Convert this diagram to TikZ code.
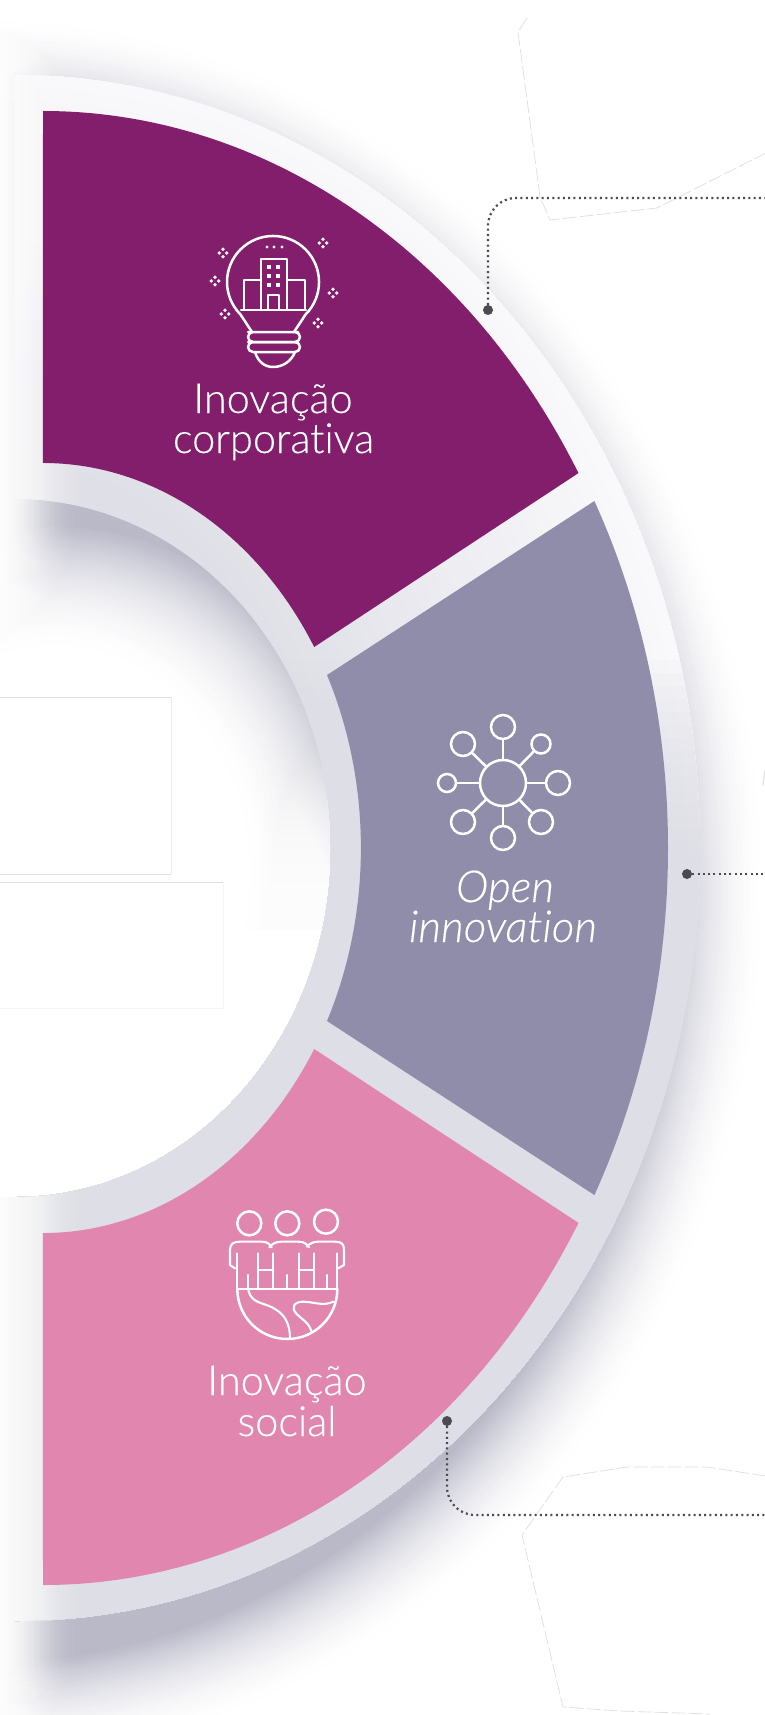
\documentclass[tikz,border=0pt]{standalone}
\usepackage{fontspec}
\setmainfont{Lato}[UprightFont=* Light, ItalicFont=* Light Italic, Ligatures=NoCommon, FakeBold=0.25]
\definecolor{cpurple}{HTML}{821E6B}
\definecolor{cgrey}{HTML}{8F8DAA}
\definecolor{cpink}{HTML}{E086AF}
\definecolor{cshade}{HTML}{B9B9C8}
\definecolor{cleader}{HTML}{4A4A50}
\definecolor{cfaint}{HTML}{DEDEDE}
\definecolor{plight}{HTML}{F9F9FB}
\definecolor{pdark}{HTML}{DFDFE7}
\definecolor{pbottom}{HTML}{DDDEE6}
\def\outerfull{(15,848) ellipse [x radius=685pt,y radius=773pt]}
\def\holefull{(15,848) ellipse [x radius=316pt,y radius=349pt]}
\def\outeropen{(15,75) arc[start angle=-90,end angle=90,x radius=685pt,y radius=773pt]}
\def\platepath{(15,75) arc[start angle=-90,end angle=90,x radius=685pt,y radius=773pt] -- (15,1197) arc[start angle=90,end angle=-90,x radius=316pt,y radius=349pt] -- cycle}
\tikzset{
  iconline/.style={draw=white,line width=2.5pt,line cap=round,line join=round},
  thinicon/.style={draw=white,line width=2.1pt,line cap=round,line join=round},
  hubring/.style={circle,draw=white,line width=2.5pt,inner sep=0pt},
  seglabel/.style={text=white,anchor=base,inner sep=0pt,font=\fontsize{41.5}{44}\selectfont},
  itallabel/.style={text=white,anchor=base,inner sep=0pt,font=\fontsize{44}{44}\selectfont\itshape},
  leader/.style={draw=cleader,line width=2.2pt,dash pattern=on 2pt off 3.3pt},
  leaddot/.style={circle,fill=cleader,minimum size=10pt,inner sep=0pt},
  faintline/.style={draw=cfaint,line width=.7pt,dash pattern=on 14pt off 3pt}
}
\newcommand{\sparkle}[2]{%
  \fill[white] (#1+3.8,#2) circle (1.9pt) (#1-3.8,#2) circle (1.9pt) (#1,#2+3.8) circle (1.9pt) (#1,#2-3.8) circle (1.9pt);}
\begin{document}
\begin{tikzpicture}[x=1pt,y=1pt,yscale=-1]
\path[use as bounding box] (0,0) rectangle (764,1715);
\clip (0,0) rectangle (766,1715);
\fill[white] (0,0) rectangle (766,1715);

% outer soft shadow
\begin{scope}[shift={(-33,40)}]
  \foreach \i in {1,...,42}{
    \pgfmathsetmacro\wd{212*(1-\i/43)}
    \pgfmathtruncatemacro\p{100*(\i/42)^2}
    \draw[color=cshade!\p!white,line width=\wd pt] \outerfull;
  }
  \fill[cshade] \outerfull;
\end{scope}

% hole with its own shadow
\begin{scope}
  \clip \holefull;
  \fill[white] (-10,400) rectangle (400,1300);
  \begin{scope}[shift={(40,25)}]
    \foreach \i in {1,...,45}{
      \pgfmathsetmacro\wd{270*(1-\i/46)}
      \pgfmathtruncatemacro\p{100*(\i/45)^2}
      \draw[color=cshade!\p!white,line width=\wd pt] \holefull;
    }
    \fill[cshade,even odd rule] (-400,-400) rectangle (1200,2200) \holefull;
  \end{scope}
  \foreach \i in {50,49,...,0}{
    \pgfmathsetmacro\op{.3*(1-\i/51)^2+.004}
    \fill[white,opacity=\op] (-10,{900-\i*4}) rectangle (400,1300);
  }
  \fill[white] (-10,930) rectangle (400,1300);
\end{scope}

% fade to the left edge
\foreach \i in {36,35,...,1}{
  \pgfmathsetmacro\op{.3*(1-\i/37)^2+.004}
  \fill[white,opacity=\op] (-5,0) rectangle ({2.5*\i},1715);
}

% faint panels
\fill[white] (527,18) -- (518,32) -- (540,197) -- (550,220) -- (657,208) -- (766,153) -- (766,0) -- (540,0) -- cycle;
\draw[faintline] (527,18) -- (518,32) -- (540,197) -- (550,220) -- (657,208) -- (766,153);
\fill[white] (563,1477) -- (627,1467) -- (707,1467) -- (766,1476) -- (766,1715) -- (710,1714) -- (620,1711) -- (563,1707) -- (522,1535) -- cycle;
\draw[faintline] (766,1476) -- (707,1467) -- (627,1467) -- (563,1477) -- (522,1535) -- (563,1707) -- (620,1711) -- (710,1714);
\draw[draw=cfaint,line width=1pt] (765,770) -- (763,785);

% two boxes
\fill[white] (-2,697) rectangle (171,874);
\draw[draw=black!12,line width=1pt] (-2,697) -- (171,697);
\draw[draw=black!12,line width=1pt] (171,874) -- (-2,874);
\draw[draw=black!8,line width=1pt] (171,697) -- (171,874);
\fill[white] (-2,882) rectangle (223,1008);
\draw[draw=black!12,line width=1pt] (-2,882) -- (223,882);
\draw[draw=black!4,line width=1pt] (223,882) -- (223,1008) -- (-2,1008);

% plate
\begin{scope}
  \clip \platepath;
  \fill[pdark] (0,0) rectangle (766,1715);
  \foreach \i in {1,...,30}{
    \pgfmathsetmacro\wd{800*(1-\i/31)}
    \pgfmathtruncatemacro\p{100*\i/30}
    \draw[color=plight!\p!pdark,line width=\wd pt] \outeropen;
  }
  \foreach \i in {0,...,40}{
    \fill[pbottom,opacity=.1] (0,{1180-\i*13}) rectangle (766,1715);
  }
  \foreach \i in {30,29,...,1}{
    \pgfmathsetmacro\op{.22*(1-\i/31)^2+.004}
    \fill[white,opacity=\op] (0,0) rectangle ({15+3.2*\i},1715);
  }
\end{scope}

% segments
\fill[cpurple] (43,111) arc[start angle=-90,end angle=-30.58,x radius=622pt,y radius=737pt] -- (314.2,647) arc[start angle=-31.47,end angle=-90,x radius=318pt,y radius=385pt] -- cycle;
\fill[cgrey] (594.4,501) arc[start angle=-28.09,end angle=28.09,x radius=625pt,y radius=737pt] -- (327,1021) arc[start angle=26.7,end angle=-26.7,x radius=318pt,y radius=385pt] -- cycle;
\fill[cpink] (43,1585) arc[start angle=90,end angle=30.58,x radius=622pt,y radius=737pt] -- (314.2,1049) arc[start angle=31.47,end angle=90,x radius=318pt,y radius=385pt] -- cycle;

% bulb icon
\draw[iconline] (252,332) -- (240.5,314.5) arc[start angle=135,end angle=405,radius=46pt] -- (294,332);
\draw[thinicon] (241,310) -- (306,310);
\draw[thinicon] (261,310) -- (261,259) -- (287,259) -- (287,310);
\draw[thinicon] (261,280) -- (244,280) -- (244,310);
\draw[thinicon] (287,280) -- (305,280) -- (305,310);
\draw[thinicon] (268,310) -- (268,295) -- (279,295) -- (279,310);
\foreach \wx in {269,278}{\foreach \wy in {267,276,285}{\fill[white] (\wx-1.6,\wy-1.6) rectangle (\wx+1.6,\wy+1.6);}}
\foreach \wx in {267,274,282}{\fill[white] (\wx,247) circle (1.7pt);}
\draw[iconline,rounded corners=5pt] (253,332) -- (248,332) -- (248,342) -- (300,342) -- (300,332) -- (293,332) -- cycle;
\draw[iconline,rounded corners=5pt] (253,342) -- (248,342) -- (248,352) -- (300,352) -- (300,342) -- cycle;
\draw[iconline] (255,352) .. controls (258,362) and (265,367) .. (273,367) .. controls (282,367) and (291,362) .. (295,352);
\sparkle{323}{243}\sparkle{223}{253}\sparkle{215}{281}\sparkle{333}{293}\sparkle{225}{314}\sparkle{318}{323}

% hub icon
\node[hubring,minimum size=46pt] (hub) at (503,783) {};
\node[hubring,minimum size=24pt] (sa) at (503,727) {};
\node[hubring,minimum size=19pt] (sb) at (541,744) {};
\node[hubring,minimum size=24pt] (sc) at (558,783) {};
\node[hubring,minimum size=24pt] (sd) at (541,822) {};
\node[hubring,minimum size=24pt] (se) at (503,838) {};
\node[hubring,minimum size=24pt] (sf) at (463,822) {};
\node[hubring,minimum size=18pt] (sg) at (447,783) {};
\node[hubring,minimum size=24pt] (sh) at (463,744) {};
\foreach \s in {sa,sb,sc,sd,se,sf,sg,sh}{\draw[iconline] (hub) -- (\s);}

% people and globe icon (coordinates of a 3x crop)
\begin{scope}[shift={(190,1190)},scale=1/3]
  \foreach \hx/\hy in {178/100,292/100,408/95}{\draw[iconline] (\hx,\hy) circle (36pt);}
  \draw[thinicon] (135,235) -- (120,225) -- (120,180) .. controls (120,162) and (130,155) .. (150,155) -- (215,155) .. controls (230,155) and (238,160) .. (245,172);
  \draw[thinicon] (238,172) .. controls (248,160) and (258,155) .. (275,155) -- (325,155) .. controls (340,155) and (350,160) .. (357,172);
  \draw[thinicon] (350,170) .. controls (360,160) and (370,155) .. (385,155) -- (435,155) .. controls (455,155) and (462,162) .. (462,180) -- (462,225) -- (445,235);
  \foreach \vx/\vy in {140/190,175/255,205/190,250/190,290/255,328/190,372/190,410/255,440/190}{\draw[thinicon] (\vx,\vy) -- (\vx,297);}
  \draw[thinicon] (205,240) -- (250,240);
  \draw[thinicon] (328,240) -- (372,240);
  \draw[thinicon] (145,297) -- (440,297);
  \draw[iconline] (142,297) arc[start angle=180,end angle=0,radius=150pt];
  \draw[thinicon] (175,300) .. controls (185,345) and (225,335) .. (260,360) .. controls (290,380) and (300,410) .. (300,445);
  \draw[thinicon] (430,335) .. controls (400,350) and (370,335) .. (340,335) .. controls (315,335) and (300,350) .. (320,372) .. controls (335,388) and (355,395) .. (365,425);
\end{scope}

% labels
\node[seglabel] (l1a) at (273,413) {Inovação};
\node[seglabel] (l1b) at (273.5,453) {corporativa};
\node[itallabel] (l2a) at (505,902) {Open};
\node[itallabel] (l2b) at (503,942) {innovation};
\node[seglabel] (l3a) at (287,1395) {Inovação};
\node[seglabel] (l3b) at (287,1436) {social};

% leaders
\node[leaddot] (d1) at (488,310) {};
\coordinate (e1) at (766,198);
\draw[leader,rounded corners=28pt] (d1) -- (488,198) -- (e1);
\node[leaddot] (d2) at (687,874) {};
\coordinate (e2) at (766,874);
\draw[leader] (d2) -- (e2);
\node[leaddot] (d3) at (447,1421) {};
\coordinate (e3) at (766,1515);
\draw[leader,rounded corners=28pt] (d3) -- (447,1515) -- (e3);
\end{tikzpicture}
\end{document}
